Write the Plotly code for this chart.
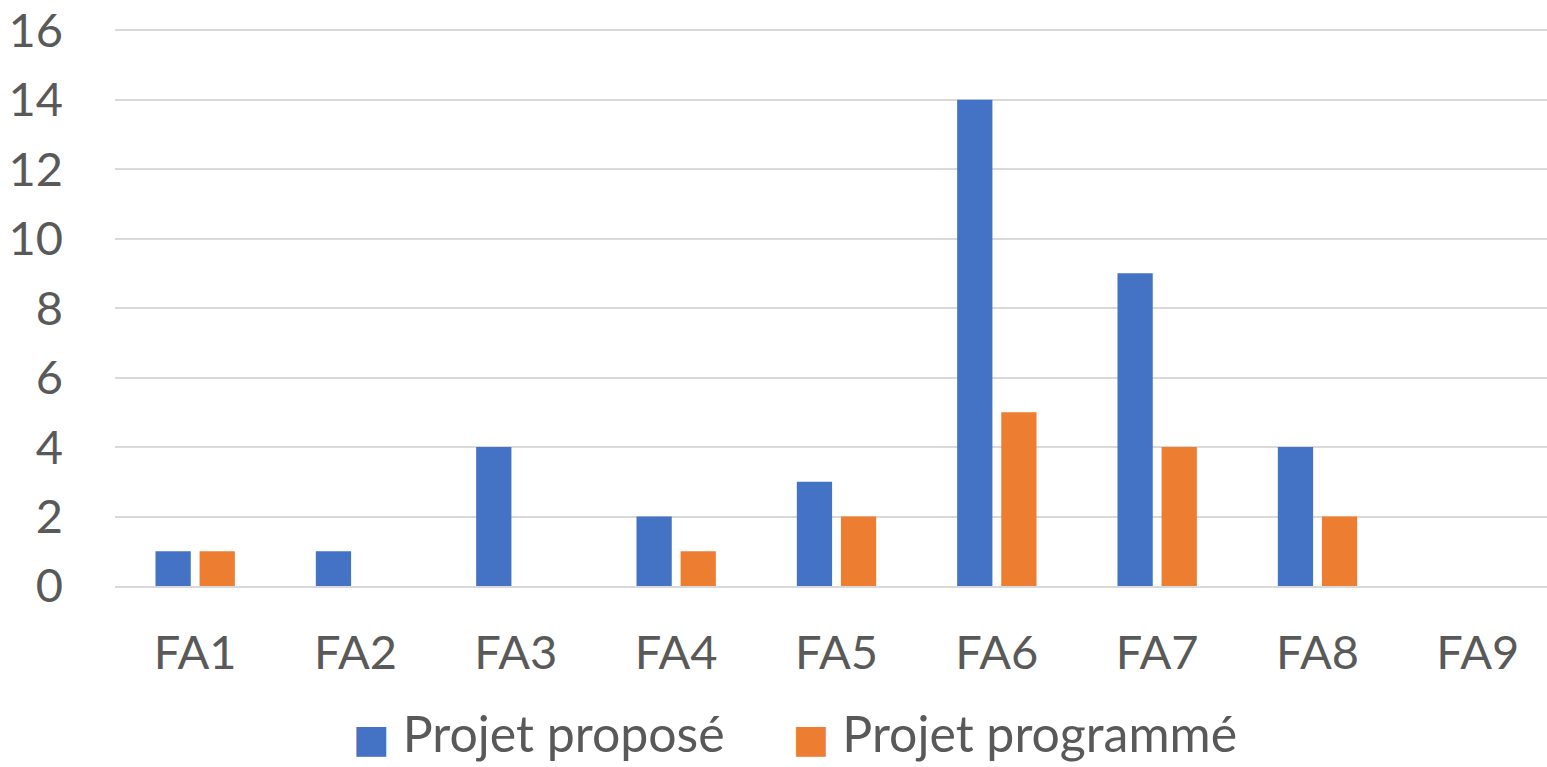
import plotly.graph_objects as go

categories = ["FA1", "FA2", "FA3", "FA4", "FA5", "FA6", "FA7", "FA8", "FA9"]
propose = [1, 1, 4, 2, 3, 14, 9, 4, 0]
programme = [1, 0, 0, 1, 2, 5, 4, 2, 0]
y_ticks = [0, 2, 4, 6, 8, 10, 12, 14, 16]
series_names = ["Projet proposé", "Projet programmé"]

BLUE = "#4472C4"
ORANGE = "#ED7D31"
TEXT = "#595959"
FONT = "Lato, Open Sans, sans-serif"
FS = 47
LFS = 50

fig = go.Figure()
for vals, name, col in [(propose, series_names[0], BLUE), (programme, series_names[1], ORANGE)]:
    fig.add_trace(go.Bar(x=categories, y=vals, name=name, showlegend=False,
                         marker=dict(color=col, line=dict(width=0))))
# legend entries with large coloured square glyphs
for name, col in [(series_names[0], BLUE), (series_names[1], ORANGE)]:
    fig.add_trace(go.Scatter(x=[None], y=[None], mode="lines", line=dict(width=0, color=col),
                             name=(f"<span style='color:{col};font-family:DejaVu Sans;"
                                   f"font-size:39px'>■</span> {name}"),
                             hoverinfo="skip"))

fig.update_layout(
    width=1558, height=767,
    margin=dict(l=115, r=0, t=25, b=181, autoexpand=False),
    paper_bgcolor="white", plot_bgcolor="white",
    barmode="group", bargap=0.45, bargroupgap=0.2,
    font=dict(family=FONT, size=FS, color=TEXT),
    showlegend=True,
    legend=dict(orientation="h", x=0.4515, xanchor="center", yref="container", y=0.045,
                yanchor="middle", font=dict(size=LFS, color=TEXT), itemwidth=53,
                tracegroupgap=0),
)
fig.update_xaxes(showgrid=False, showline=True, linecolor="#D9D9D9", linewidth=2,
                 ticks="", ticklabelstandoff=25, automargin=False,
                 tickfont=dict(size=FS, color=TEXT))
fig.update_yaxes(range=[0, 16.15], tickvals=y_ticks, showgrid=True, gridcolor="#D9D9D9",
                 gridwidth=2, zeroline=False, showline=False, ticks="", automargin=False,
                 ticklabelstandoff=51, ticklabeloverflow="allow",
                 tickfont=dict(size=FS, color=TEXT))

fig.write_html("out.html", config={"displayModeBar": False},
               post_script="document.body.style.margin='0';document.body.style.overflow='hidden';")
